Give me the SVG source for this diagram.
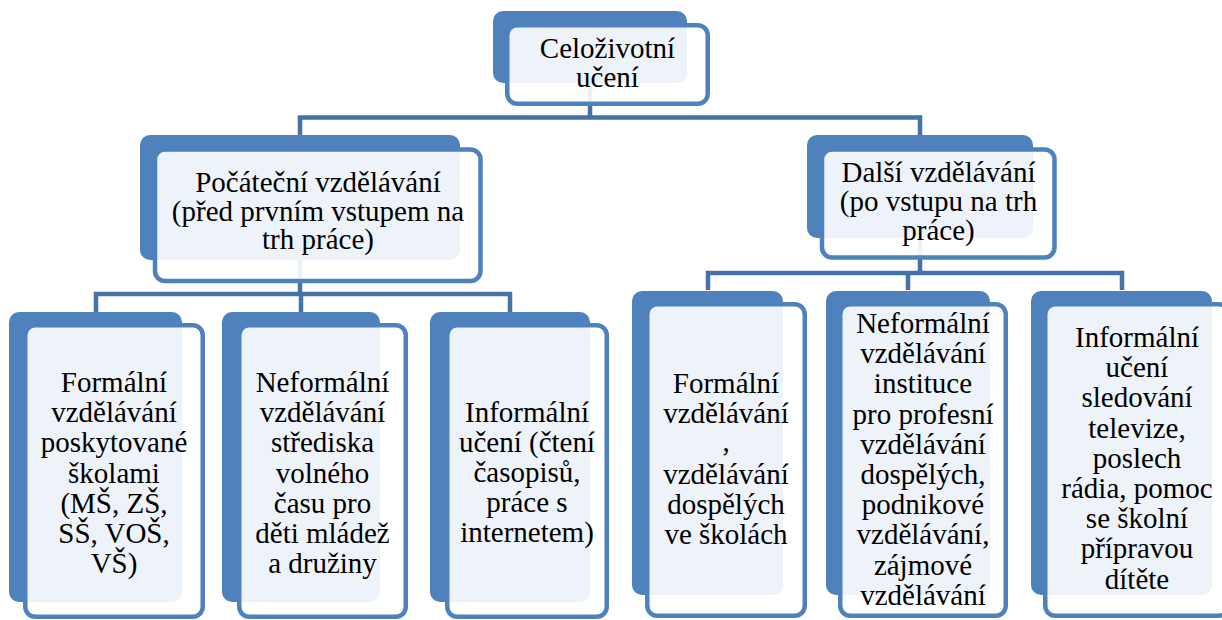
<svg xmlns="http://www.w3.org/2000/svg" width="1222" height="620" viewBox="0 0 1222 620">
<style>
.back{fill:#4F81BD;}
.front{fill:#FFFFFF;fill-opacity:0.9;stroke:#4F81BD;stroke-width:4.5;}
.conn{fill:none;stroke:#4572A7;stroke-width:4.5;stroke-linejoin:miter;stroke-linecap:butt;}
.t{font-family:'Liberation Serif','Times New Roman',serif;font-size:29px;fill:#000;text-anchor:middle;}
</style>
<rect width="1222" height="620" fill="#FFFFFF"/>
<g id="connectors">
<path class="conn" d="M590,83 V117.5 M300,135 V117.5 H920 V135"/>
<path class="conn" d="M300,260 V294 M96,312 V294 H510 V312 M301,294 V312"/>
<path class="conn" d="M920,238 V273 M708,290 V273 H1122 V290 M908,273 V290"/>
</g>
<g id="node-celozivotni">
<rect class="back" x="493" y="11" width="194" height="72" rx="10"/>
<rect class="front" x="507.25" y="25.25" width="200.5" height="78.5" rx="10"/>
<text class="t" x="607.5" y="58">Celoživotní</text>
<text class="t" x="607.5" y="87">učení</text>
</g>
<g id="node-pocatecni">
<rect class="back" x="140" y="135" width="320" height="125" rx="10"/>
<rect class="front" x="155" y="149.5" width="325.5" height="131.5" rx="10"/>
<text class="t" x="318" y="192">Počáteční vzdělávání</text>
<text class="t" x="318" y="220.5">(před prvním vstupem na</text>
<text class="t" x="318" y="249">trh práce)</text>
</g>
<g id="node-dalsi">
<rect class="back" x="807" y="135" width="226" height="103" rx="10"/>
<rect class="front" x="822" y="149.5" width="232.5" height="108" rx="10"/>
<text class="t" x="938.5" y="182">Další vzdělávání</text>
<text class="t" x="938.5" y="211">(po vstupu na trh</text>
<text class="t" x="938.5" y="240">práce)</text>
</g>
<g id="node-formalni-1">
<rect class="back" x="9" y="312" width="173" height="290" rx="10"/>
<rect class="front" x="25.25" y="325.25" width="177.5" height="291.5" rx="10"/>
<text class="t" x="114" y="392">Formální</text>
<text class="t" x="114" y="422.2">vzdělávání</text>
<text class="t" x="114" y="452.4">poskytované</text>
<text class="t" x="114" y="482.6">školami</text>
<text class="t" x="114" y="512.8">(MŠ, ZŠ,</text>
<text class="t" x="114" y="543">SŠ, VOŠ,</text>
<text class="t" x="114" y="573.2">VŠ)</text>
</g>
<g id="node-neformalni-1">
<rect class="back" x="222" y="312" width="158" height="290" rx="10"/>
<rect class="front" x="239.25" y="325.25" width="166.5" height="291.5" rx="10"/>
<text class="t" x="322.5" y="392">Neformální</text>
<text class="t" x="322.5" y="422.2">vzdělávání</text>
<text class="t" x="322.5" y="452.4">střediska</text>
<text class="t" x="322.5" y="482.6">volného</text>
<text class="t" x="322.5" y="512.8">času pro</text>
<text class="t" x="322.5" y="543">děti mládež</text>
<text class="t" x="322.5" y="573.2">a družiny</text>
</g>
<g id="node-informalni-1">
<rect class="back" x="430" y="312" width="160" height="290" rx="10"/>
<rect class="front" x="447.25" y="325.25" width="159.5" height="291.5" rx="10"/>
<text class="t" x="527" y="421.6">Informální</text>
<text class="t" x="527" y="451.8">učení (čtení</text>
<text class="t" x="527" y="482">časopisů,</text>
<text class="t" x="527" y="512.2">práce s</text>
<text class="t" x="527" y="542.4">internetem)</text>
</g>
<g id="node-formalni-2">
<rect class="back" x="632" y="291" width="151" height="304" rx="10"/>
<rect class="front" x="647.25" y="304.25" width="157.5" height="311.5" rx="10"/>
<text class="t" x="726" y="393">Formální</text>
<text class="t" x="726" y="423.2">vzdělávání</text>
<text class="t" x="726" y="451">,</text>
<text class="t" x="726" y="483.6">vzdělávání</text>
<text class="t" x="726" y="513.8">dospělých</text>
<text class="t" x="726" y="544">ve školách</text>
</g>
<g id="node-neformalni-2">
<rect class="back" x="826" y="291" width="164" height="304" rx="10"/>
<rect class="front" x="840.25" y="304.25" width="165.5" height="311.5" rx="10"/>
<text class="t" x="923" y="333">Neformální</text>
<text class="t" x="923" y="363.2">vzdělávání</text>
<text class="t" x="923" y="393.4">instituce</text>
<text class="t" x="923" y="423.6">pro profesní</text>
<text class="t" x="923" y="453.8">vzdělávání</text>
<text class="t" x="923" y="484">dospělých,</text>
<text class="t" x="923" y="514.2">podnikové</text>
<text class="t" x="923" y="544.4">vzdělávání,</text>
<text class="t" x="923" y="574.6">zájmové</text>
<text class="t" x="923" y="604.8">vzdělávání</text>
</g>
<g id="node-informalni-2">
<rect class="back" x="1031" y="291" width="181" height="304" rx="10"/>
<rect class="front" x="1045.25" y="304.25" width="183.5" height="311.5" rx="10"/>
<text class="t" x="1137" y="347">Informální</text>
<text class="t" x="1137" y="377.2">učení</text>
<text class="t" x="1137" y="407.4">sledování</text>
<text class="t" x="1137" y="437.6">televize,</text>
<text class="t" x="1137" y="467.8">poslech</text>
<text class="t" x="1137" y="498">rádia, pomoc</text>
<text class="t" x="1137" y="528.2">se školní</text>
<text class="t" x="1137" y="558.4">přípravou</text>
<text class="t" x="1137" y="588.6">dítěte</text>
</g>
</svg>
